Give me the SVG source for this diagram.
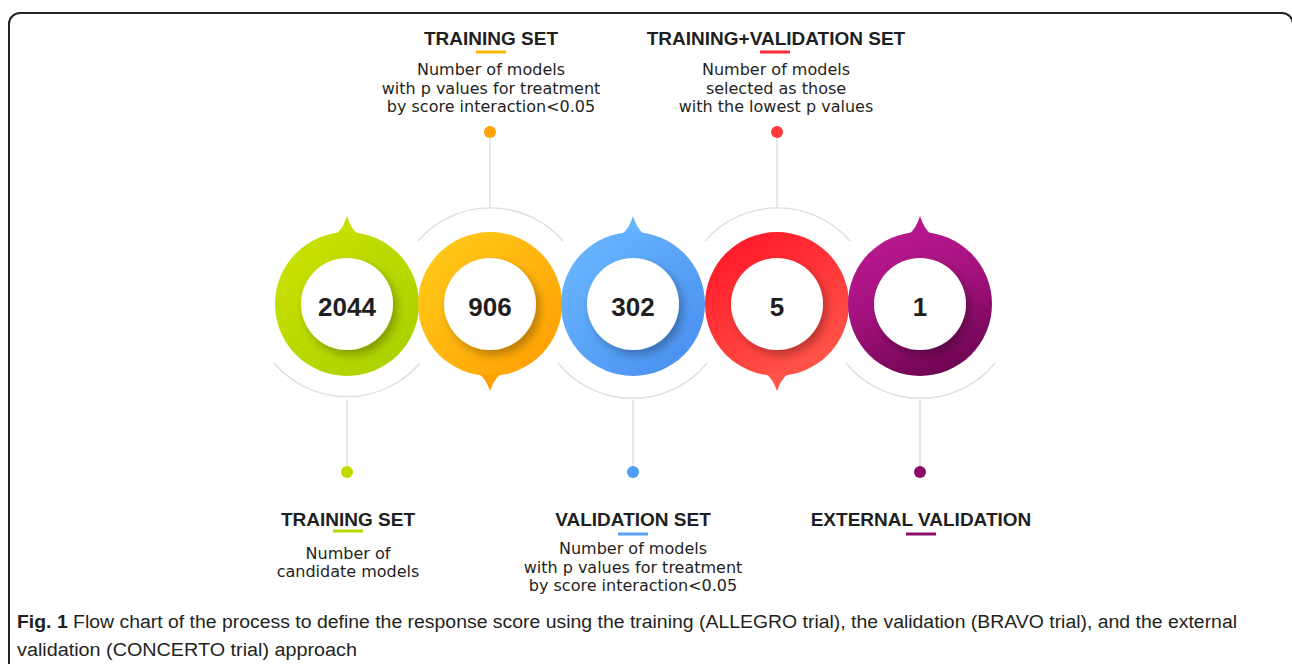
<svg xmlns="http://www.w3.org/2000/svg" width="1292" height="664" viewBox="0 0 1292 664">
  <style>
    .frame { fill: none; stroke: #222; stroke-width: 2; }
    .link { fill: none; stroke: #dcdde6; stroke-width: 1.3; }
    .num { font-family: "Liberation Sans", Arial, sans-serif; font-weight: bold; font-size: 26px; fill: #1f1f22; text-anchor: middle; }
    .title { font-family: "Liberation Sans", Arial, sans-serif; font-weight: bold; font-size: 19px; fill: #1f1f22; text-anchor: middle; }
    .sub { font-family: "DejaVu Sans", sans-serif; font-size: 16px; fill: #1f1f22; text-anchor: middle; }
    .cap { font-family: "Liberation Sans", Arial, sans-serif; font-size: 18px; fill: #231f20; }
    .hole { fill: #ffffff; filter: url(#holeShadow); }
  </style>
  <defs>
    <filter id="holeShadow" x="-30%" y="-30%" width="160%" height="160%">
      <feGaussianBlur in="SourceAlpha" stdDeviation="5"/>
      <feOffset dx="4" dy="5" result="blur"/>
      <feComponentTransfer><feFuncA type="linear" slope="0.28"/></feComponentTransfer>
      <feMerge><feMergeNode/><feMergeNode in="SourceGraphic"/></feMerge>
    </filter>
    <linearGradient id="gGreen" x1="0" y1="0" x2="1" y2="1">
      <stop offset="0" stop-color="#cde200"/>
      <stop offset="1" stop-color="#a6d000"/>
    </linearGradient>
    <linearGradient id="gOrange" x1="0" y1="0" x2="1" y2="1">
      <stop offset="0" stop-color="#ffce1c"/>
      <stop offset="1" stop-color="#ff9c00"/>
    </linearGradient>
    <linearGradient id="gBlue" x1="0" y1="0" x2="1" y2="1">
      <stop offset="0" stop-color="#6cbaff"/>
      <stop offset="1" stop-color="#478cef"/>
    </linearGradient>
    <linearGradient id="gRed" x1="0.2" y1="0" x2="0.8" y2="1">
      <stop offset="0" stop-color="#ff1729"/>
      <stop offset="1" stop-color="#ff5a4b"/>
    </linearGradient>
    <linearGradient id="gPurple" x1="0.3" y1="0" x2="0.7" y2="1">
      <stop offset="0" stop-color="#b8188f"/>
      <stop offset="0.4" stop-color="#a6127f"/>
      <stop offset="1" stop-color="#6c0550"/>
    </linearGradient>
  </defs>

  <rect class="frame" x="9" y="13" width="1284" height="700" rx="11"/>

  <!-- connectors: guide arcs and stems to the marker dots -->
  <g id="connectors">
    <path class="link" d="M 418 241 A 96 96 0 0 1 563 241"/>
    <path class="link" d="M 705 241 A 96 96 0 0 1 850 241"/>
    <path class="link" d="M 274 363 A 96 96 0 0 0 420 363"/>
    <path class="link" d="M 558 363 A 96 96 0 0 0 707 363"/>
    <path class="link" d="M 846 363 A 96 96 0 0 0 995 363"/>
    <line class="link" x1="490" y1="132" x2="490" y2="208"/>
    <line class="link" x1="777" y1="132" x2="777" y2="208"/>
    <line class="link" x1="347" y1="400" x2="347" y2="472"/>
    <line class="link" x1="633" y1="400" x2="633" y2="472"/>
    <line class="link" x1="920" y1="400" x2="920" y2="472"/>
  </g>

  <!-- ring nodes -->
  <g id="node-2044">
    <path d="M 336 234 Q 343 229 347 216 Q 351 229 358 234 Z" fill="#c8df00"/>
    <circle cx="347" cy="304" r="72" fill="url(#gGreen)"/>
    <circle class="hole" cx="347" cy="304" r="46"/>
    <text class="num" x="347" y="316">2044</text>
    <circle cx="347" cy="472" r="6" fill="#c3dc00"/>
  </g>
  <g id="node-906">
    <circle cx="490" cy="304" r="72" fill="url(#gOrange)"/>
    <path d="M 479 374 Q 486 379 490 391 Q 494 379 501 374 Z" fill="#ffa000"/>
    <circle class="hole" cx="490" cy="304" r="46"/>
    <text class="num" x="490" y="316">906</text>
    <circle cx="490" cy="132" r="6" fill="#ffa20a"/>
  </g>
  <g id="node-302">
    <path d="M 622 234 Q 629 229 633 216 Q 637 229 644 234 Z" fill="#64b4ff"/>
    <circle cx="633" cy="304" r="72" fill="url(#gBlue)"/>
    <circle class="hole" cx="633" cy="304" r="46"/>
    <text class="num" x="633" y="316">302</text>
    <circle cx="633" cy="472" r="6" fill="#4d9cf6"/>
  </g>
  <g id="node-5">
    <circle cx="777" cy="304" r="72" fill="url(#gRed)"/>
    <path d="M 766 374 Q 773 379 777 391 Q 781 379 788 374 Z" fill="#ff554a"/>
    <circle class="hole" cx="777" cy="304" r="46"/>
    <text class="num" x="777" y="316">5</text>
    <circle cx="777" cy="132" r="6" fill="#ff3a3a"/>
  </g>
  <g id="node-1">
    <path d="M 909 234 Q 916 229 920 216 Q 924 229 931 234 Z" fill="#b3168c"/>
    <circle cx="920" cy="304" r="72" fill="url(#gPurple)"/>
    <circle class="hole" cx="920" cy="304" r="46"/>
    <text class="num" x="920" y="316">1</text>
    <circle cx="920" cy="472" r="6" fill="#8a0b69"/>
  </g>

  <!-- labels -->
  <g id="label-training-bottom">
    <text class="title" x="348" y="526">TRAINING SET</text>
    <rect x="333" y="529.5" width="30" height="3" fill="#b5d800"/>
    <text class="sub" x="348" y="559">Number of</text>
    <text class="sub" x="348" y="577">candidate models</text>
  </g>
  <g id="label-training-top">
    <text class="title" x="491" y="45">TRAINING SET</text>
    <rect x="476" y="50.5" width="30" height="3" fill="#ffb400"/>
    <text class="sub" x="491" y="75">Number of models</text>
    <text class="sub" x="491" y="93.5">with p values for treatment</text>
    <text class="sub" x="491" y="112">by score interaction&lt;0.05</text>
  </g>
  <g id="label-validation">
    <text class="title" x="633" y="526">VALIDATION SET</text>
    <rect x="618" y="532.5" width="30" height="3" fill="#5aa2f2"/>
    <text class="sub" x="633" y="554">Number of models</text>
    <text class="sub" x="633" y="572.5">with p values for treatment</text>
    <text class="sub" x="633" y="591">by score interaction&lt;0.05</text>
  </g>
  <g id="label-training-validation">
    <text class="title" x="776" y="45">TRAINING+VALIDATION SET</text>
    <rect x="760" y="50.5" width="30" height="3" fill="#ff2a38"/>
    <text class="sub" x="776" y="75">Number of models</text>
    <text class="sub" x="776" y="93.5">selected as those</text>
    <text class="sub" x="776" y="112">with the lowest p values</text>
  </g>
  <g id="label-external">
    <text class="title" x="921" y="526">EXTERNAL VALIDATION</text>
    <rect x="906" y="532.5" width="30" height="3" fill="#8c0c6c"/>
  </g>

  <!-- figure caption -->
  <g id="caption">
    <text class="cap" x="17" y="628" textLength="1220" lengthAdjust="spacingAndGlyphs"><tspan font-weight="bold">Fig. 1</tspan> Flow chart of the process to define the response score using the training (ALLEGRO trial), the validation (BRAVO trial), and the external</text>
    <text class="cap" x="17" y="656" textLength="340" lengthAdjust="spacingAndGlyphs">validation (CONCERTO trial) approach</text>
  </g>
</svg>
